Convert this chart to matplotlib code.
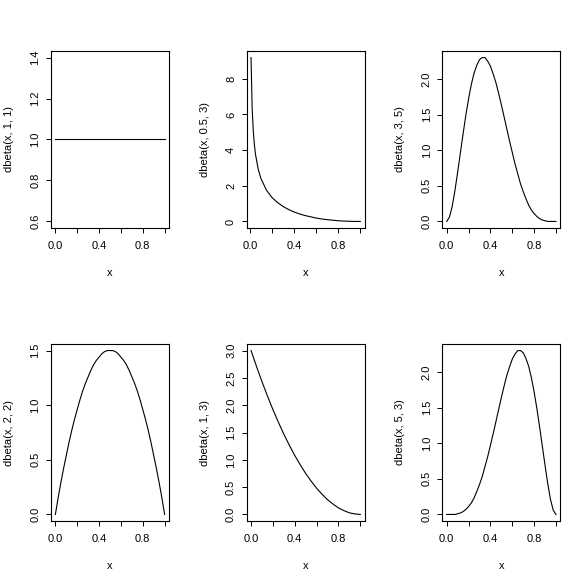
import matplotlib
matplotlib.use("Agg")
import matplotlib.pyplot as plt

plt.rcParams['font.family'] = ['Liberation Sans', 'DejaVu Sans']
plt.rcParams['font.size'] = 8

# coarse x grid (every 0.05) and fine x grid (every 0.025)
xs = [0.00, 0.05, 0.10, 0.15, 0.20, 0.25, 0.30, 0.35, 0.40, 0.45, 0.50,
      0.55, 0.60, 0.65, 0.70, 0.75, 0.80, 0.85, 0.90, 0.95, 1.00]
xs_fine = [0.000, 0.025, 0.050, 0.075, 0.100, 0.125, 0.150, 0.175, 0.200, 0.225,
           0.250, 0.275, 0.300, 0.325, 0.350, 0.375, 0.400, 0.425, 0.450, 0.475,
           0.500, 0.525, 0.550, 0.575, 0.600, 0.625, 0.650, 0.675, 0.700, 0.725,
           0.750, 0.775, 0.800, 0.825, 0.850, 0.875, 0.900, 0.925, 0.950, 0.975,
           1.000]

# dbeta(x, 1, 1)
y_1_1 = [1.0] * 21

# dbeta(x, 0.5, 3) -- steep near zero, first point at x = 0.01
xs_05_3 = [0.01, 0.02, 0.03, 0.04, 0.05, 0.075, 0.10, 0.15, 0.20, 0.25, 0.30,
           0.35, 0.40, 0.45, 0.50, 0.55, 0.60, 0.65, 0.70, 0.75, 0.80,
           0.85, 0.90, 0.95, 1.00]
y_05_3 = [9.19, 6.37, 5.09, 4.32, 3.78, 2.93, 2.40, 1.75, 1.34, 1.06, 0.84,
          0.67, 0.53, 0.42, 0.33, 0.26, 0.19, 0.14, 0.10, 0.07, 0.04,
          0.02, 0.01, 0.00, 0.00]

# dbeta(x, 3, 5)
y_3_5 = [0.00, 0.06, 0.21, 0.43, 0.69, 0.96, 1.23, 1.49, 1.72, 1.92,
         2.08, 2.19, 2.27, 2.30, 2.30, 2.25, 2.18, 2.07, 1.95, 1.80,
         1.64, 1.47, 1.30, 1.13, 0.97, 0.81, 0.67, 0.53, 0.42, 0.32,
         0.23, 0.16, 0.11, 0.07, 0.04, 0.02, 0.01, 0.00, 0.00, 0.00,
         0.00]

# dbeta(x, 2, 2)
y_2_2 = [0.00, 0.15, 0.29, 0.42, 0.54, 0.66, 0.77, 0.87, 0.96, 1.05,
         1.13, 1.20, 1.26, 1.32, 1.37, 1.41, 1.44, 1.47, 1.49, 1.50,
         1.50, 1.50, 1.49, 1.47, 1.44, 1.41, 1.37, 1.32, 1.26, 1.20,
         1.13, 1.05, 0.96, 0.87, 0.77, 0.66, 0.54, 0.42, 0.29, 0.15,
         0.00]

# dbeta(x, 1, 3)
y_1_3 = [3.00, 2.71, 2.43, 2.17, 1.92, 1.69, 1.47, 1.27, 1.08, 0.91, 0.75,
         0.61, 0.48, 0.37, 0.27, 0.19, 0.12, 0.07, 0.03, 0.01, 0.00]

# dbeta(x, 5, 3)
y_5_3 = [0.00, 0.00, 0.00, 0.00, 0.01, 0.02, 0.04, 0.07, 0.11, 0.16,
         0.23, 0.32, 0.42, 0.53, 0.67, 0.81, 0.97, 1.13, 1.30, 1.47,
         1.64, 1.80, 1.95, 2.07, 2.18, 2.25, 2.30, 2.30, 2.27, 2.19,
         2.08, 1.92, 1.72, 1.49, 1.23, 0.96, 0.69, 0.43, 0.21, 0.06,
         0.00]

panels = [
    (xs, y_1_1, "dbeta(x, 1, 1)", [0.6, 0.8, 1.0, 1.2, 1.4], ["0.6", "0.8", "1.0", "1.2", "1.4"]),
    (xs_05_3, y_05_3, "dbeta(x, 0.5, 3)", [0, 2, 4, 6, 8], ["0", "2", "4", "6", "8"]),
    (xs_fine, y_3_5, "dbeta(x, 3, 5)", [0, 0.5, 1.0, 1.5, 2.0], ["0.0", "0.5", "1.0", "1.5", "2.0"]),
    (xs_fine, y_2_2, "dbeta(x, 2, 2)", [0, 0.5, 1.0, 1.5], ["0.0", "0.5", "1.0", "1.5"]),
    (xs, y_1_3, "dbeta(x, 1, 3)", [0, 0.5, 1.0, 1.5, 2.0, 2.5, 3.0],
     ["0.0", "0.5", "1.0", "1.5", "2.0", "2.5", "3.0"]),
    (xs_fine, y_5_3, "dbeta(x, 5, 3)", [0, 0.5, 1.0, 1.5, 2.0], ["0.0", "0.5", "1.0", "1.5", "2.0"]),
]

W, H = 587, 586
fig = plt.figure(figsize=(W / 100, H / 100), dpi=100)

for i, (px, py, lab, yt, ytl) in enumerate(panels):
    r, c = divmod(i, 3)
    left = 51 + c * W / 3
    top = 51 + r * H / 2
    ax = fig.add_axes([left / W, 1 - (top + 177) / H, 118 / W, 177 / H])
    ax.plot(px, py, color="black", lw=0.8)
    ax.margins(x=0.04, y=0.04)
    if i == 0:
        ax.set_ylim(0.568, 1.432)

    ax.set_xticks([0, 0.2, 0.4, 0.6, 0.8, 1.0])
    ax.set_xticklabels(["0.0", "", "0.4", "", "0.8", ""])
    ax.set_yticks(yt)
    ax.set_yticklabels(ytl, rotation=90, va="center")
    ax.tick_params(direction="out", length=3.6, width=0.7, colors="black")
    ax.tick_params(axis="x", pad=6)
    ax.tick_params(axis="y", pad=4)
    for s in ax.spines.values():
        s.set_linewidth(0.8)

    ax.set_xlabel("x", va="center", ha="center")
    ax.xaxis.set_label_coords(0.5, -0.254)
    ax.set_ylabel(lab, va="center", ha="center")
    ax.yaxis.set_label_coords(-0.356, 0.5)

fig.savefig("out.png", dpi=100, facecolor="white")
